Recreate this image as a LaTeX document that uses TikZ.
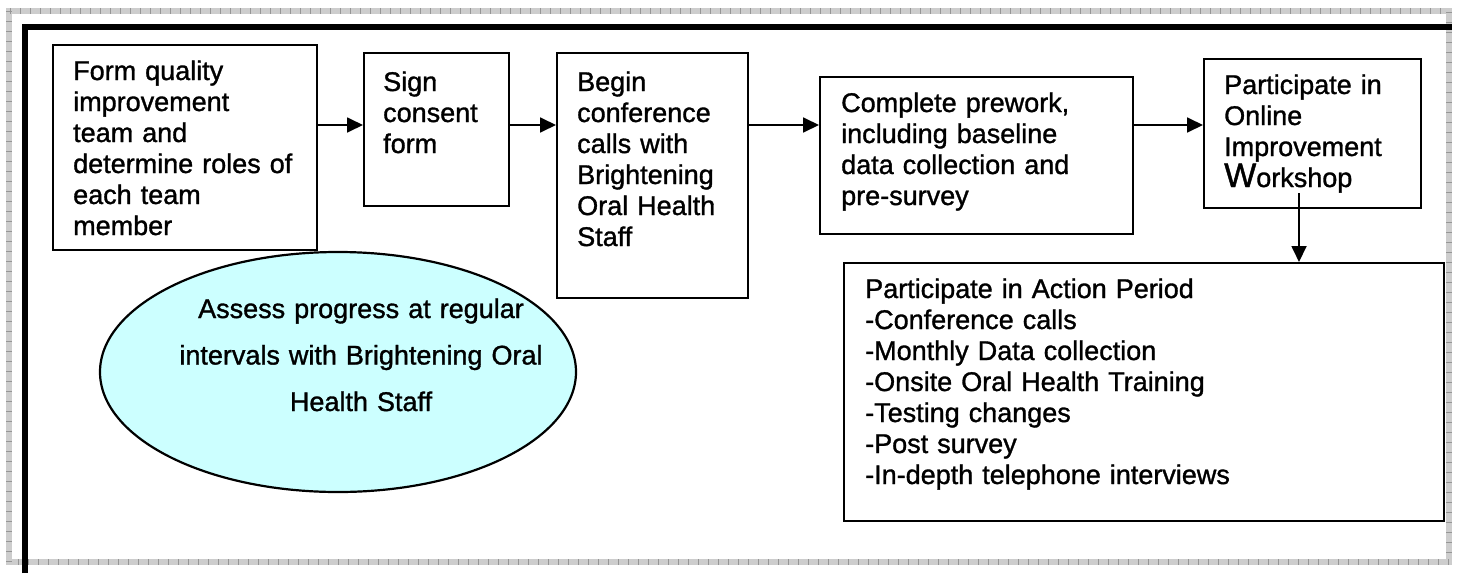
\documentclass[tikz,border=0pt]{standalone}
\usepackage{fontspec}
\setmainfont{Liberation Sans}[FakeBold=1.2]
\usetikzlibrary{arrows.meta,shapes.geometric}
\definecolor{lightcyan}{RGB}{204, 255, 255}
\definecolor{framegray}{RGB}{205, 205, 205}
\definecolor{tickgray}{RGB}{150, 150, 150}
\newcommand{\flowfont}{\fontsize{27}{31}\selectfont}

\begin{document}
\begin{tikzpicture}[x=1pt, y=-1pt,
    stepbox/.style={draw, line width=1.8pt, inner sep=0pt, anchor=north west},
    steptext/.style={anchor=base west, align=left, text width=420, inner sep=0pt, font=\flowfont},
    flowarrow/.style={line width=1.8pt, -{Triangle[length=16pt, width=15pt]}}]
            \useasboundingbox (0,0) rectangle (1458,573);
            \draw[framegray, line width=6pt]                                  (9,11) rectangle (1449,562);
            \draw[tickgray,  line width=6pt, dash pattern=on 0.8pt off 9.2pt] (9,11) rectangle (1449,562);
            \draw[black,     line width=6pt]                                  (25,573) -- (25,27) -- (1452,27);

            \node[stepbox, minimum width=264, minimum height=205] (team)     at (52,44)   {};
            \node[stepbox, minimum width=145, minimum height=153] (consent)  at (363,52)  {};
            \node[stepbox, minimum width=191, minimum height=245] (calls)    at (556,52)  {};
            \node[stepbox, minimum width=313, minimum height=157] (prework)  at (819,76)  {};
            \node[stepbox, minimum width=217, minimum height=149] (workshop) at (1203,58) {};
            \node[stepbox, minimum width=600, minimum height=258] (action)   at (843,262) {};

            \node[steptext] (teamtext)     at (73,80)   {Form quality\\improvement\\team and\\determine roles of\\each team\\member};
            \node[steptext] (consenttext)  at (383,91)  {Sign\\consent\\form};
            \node[steptext] (callstext)    at (577,91)  {Begin\\conference\\calls with\\Brightening\\Oral Health\\Staff};
            \node[steptext] (preworktext)  at (841,112) {Complete prework,\\including baseline\\data collection and\\pre-survey};
            \node[steptext] (workshoptext) at (1224,94) {Participate in\\Online\\Improvement\\{\fontsize{34}{31}\selectfont W}orkshop};
            \node[steptext] (actiontext)   at (865,298) {Participate in Action Period\\-Conference calls\\-Monthly Data collection\\-Onsite Oral Health Training\\-Testing changes\\-Post survey\\-In-depth telephone interviews};

            \node[draw, ellipse, fill=lightcyan, line width=2.2pt, inner sep=0pt,
                  minimum width=476, minimum height=240] (assess) at (338,372) {};
            \node[anchor=base, align=center, text width=440, inner sep=0pt,
                  font=\fontsize{27}{46.5}\selectfont] (assesstext) at (361,318)
                 {Assess progress at regular\\intervals with Brightening Oral\\Health Staff};

            \coordinate (flowrow)   at (0,125);
            \coordinate (dropstart) at (1299,193);
            \draw[flowarrow] (team.east |- flowrow)    -- (consent.west |- flowrow);
            \draw[flowarrow] (consent.east |- flowrow) -- (calls.west |- flowrow);
            \draw[flowarrow] (calls.east |- flowrow)   -- (prework.west |- flowrow);
            \draw[flowarrow] (prework.east |- flowrow) -- (workshop.west |- flowrow);
            \draw[flowarrow] (dropstart)               -- (dropstart |- action.north);
\end{tikzpicture}
\end{document}
